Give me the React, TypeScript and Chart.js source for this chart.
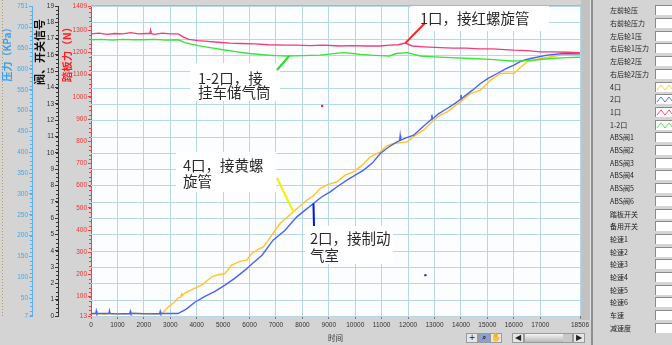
import React, { useEffect, useRef } from "react";
import { Chart, registerables } from "chart.js";

Chart.register(...registerables);

// ---------- tick labels ----------
const timeTicks = [0, 1000, 2000, 3000, 4000, 5000, 6000, 7000, 8000, 9000, 10000, 11000, 12000, 13000, 14000, 15000, 16000, 17000, 18506];
const pressureTicks = [7, 50, 100, 150, 200, 250, 300, 350, 400, 450, 500, 550, 600, 650, 700, 751];
const signalTicks = [0, 1, 2, 3, 4, 5, 6, 7, 8, 9, 10, 11, 12, 13, 14, 15, 16, 17, 18, 19];
const pedalTicks = [13, 100, 200, 300, 400, 500, 600, 700, 800, 900, 1000, 1100, 1200, 1300, 1409];

// ---------- series (time, kPa) ----------
const port1Time = [0, 300, 600, 900, 1200, 1500, 1800, 2100, 2230, 2250, 2270, 2400, 2700, 3000, 3300, 3480, 3700, 4050, 4400, 4800, 5260, 5700, 6200, 6700, 7350, 7800, 8300, 8800, 9430, 9900, 10400, 10950, 11300, 11630, 11895, 12160, 12600, 13220, 13700, 14200, 14700, 15200, 15500, 16000, 16500, 17010, 17500, 18000, 18506];
const port1Kpa = [684, 686, 683, 685, 684, 687, 684, 685, 685, 692, 685, 683, 686, 684, 684, 677, 671, 668, 666, 664, 662, 661, 660, 658, 657, 657, 656, 657, 655, 656, 655, 655, 657, 658, 662, 655, 653, 651, 650, 650, 648, 648, 647, 645, 644, 641, 641, 640, 639];

const port12Time = [0, 400, 800, 1200, 1600, 2000, 2400, 2800, 3300, 3560, 4050, 4500, 5000, 5525, 6000, 6500, 7000, 7420, 8000, 8670, 9100, 9545, 9900, 10190, 10600, 10950, 11300, 11550, 11970, 12460, 13000, 13600, 14360, 15120, 15500, 15880, 16450, 16900, 17390, 18000, 18506];
const port12Kpa = [670, 671, 669, 671, 670, 670, 671, 669, 670, 663, 656, 651, 646, 641, 637, 634, 632, 631, 632, 633, 636, 639, 637, 635, 633, 632, 631, 637, 639, 631, 629, 627, 625, 623, 621, 619, 620, 622, 625, 627, 628];

const port4Time = [0, 250, 500, 750, 1000, 1300, 1600, 1900, 2200, 2450, 2685, 2912, 3174, 3288, 3400, 3428, 3460, 3553, 3933, 4236, 4566, 4805, 5070, 5324, 5639, 5893, 6083, 6322, 6523, 6841, 7156, 7422, 7660, 7914, 8168, 8407, 8673, 8976, 9306, 9621, 9935, 10265, 10569, 10948, 11175, 11452, 11960, 12275, 12590, 12970, 13223, 13477, 13981, 14361, 14740, 15119, 15498, 15726, 16003, 16257, 16511, 17015, 17773, 18506];
const port4Kpa = [12, 13, 11, 13, 12, 12, 14, 12, 13, 12, 12, 28, 41, 50, 52, 60, 56, 62, 74, 83, 101, 106, 109, 129, 138, 141, 157, 167, 173, 201, 229, 244, 257, 271, 285, 295, 313, 323, 329, 345, 353, 369, 389, 401, 415, 421, 425, 441, 453, 477, 489, 497, 521, 541, 549, 573, 589, 590, 589, 604, 617, 625, 633, 633];

const port2Time = [0, 180, 200, 220, 500, 680, 700, 720, 1000, 1470, 1490, 1510, 1800, 2200, 2600, 2620, 2640, 2900, 3288, 3590, 3932, 4312, 4692, 5070, 5449, 5829, 6132, 6473, 6890, 7345, 7789, 8104, 8419, 8711, 9052, 9355, 9685, 10000, 10315, 10645, 10948, 11252, 11581, 11680, 11700, 11720, 11896, 12211, 12541, 12844, 12880, 12900, 12920, 13147, 13477, 13792, 13980, 14000, 14020, 14107, 14437, 14740, 15043, 15373, 15688, 16003, 16295, 16636, 17269, 17899, 18506];
const port2Kpa = [13, 13, 19, 13, 13, 13, 19, 13, 12, 13, 18, 13, 13, 12, 13, 18, 13, 13, 13, 23, 40, 54, 66, 81, 98, 117, 134, 153, 189, 213, 245, 261, 277, 292, 305, 319, 333, 345, 357, 374, 397, 412, 425, 428, 440, 429, 434, 441, 460, 477, 479, 490, 480, 492, 505, 518, 527, 538, 528, 533, 549, 565, 578, 589, 600, 609, 619, 625, 633, 637, 636];

const strayRedTime = [8749];
const strayRedKpa = [511];
const strayBlueTime = [12655];
const strayBlueKpa = [105];

const legendNames = ["左前轮压", "右前轮压力", "左后轮1压", "右后轮1压力", "左后轮2压", "右后轮2压力", "4口", "2口", "1口", "1-2口", "ABS阀1", "ABS阀2", "ABS阀3", "ABS阀4", "ABS阀5", "ABS阀6", "踏板开关", "备用开关", "轮速1", "轮速2", "轮速3", "轮速4", "轮速5", "轮速6", "车速", "减速度"];

const RED = "#f23c78";
const GREEN = "#3ae43a";
const YELLOW = "#ffc426";
const BLUE = "#4a62f0";
const GRID = "#b8d6e9";
const legendColors: Record<string, string> = { "4口": YELLOW, "2口": BLUE, "1口": RED, "1-2口": GREEN };

const notes = [
  { lines: ["1口，接红螺旋管"], t: 11895, v: 662, end: [425, 23], box: [411, 6, 138, 25], tx: 420, ty: [18], color: "#ff2020" },
  { lines: ["1-2口，接", "挂车储气筒"], t: 7500, v: 631, end: [277, 70], box: [190, 63, 90, 38], tx: 198, ty: [78, 92.5], color: "#22dd22" },
  { lines: ["4口，接黄螺", "旋管"], t: 7660, v: 257, end: [277, 178], box: [176, 152, 100, 40], tx: 183, ty: [165, 181.7], color: "#f2f000" },
  { lines: ["2口，接制动", "气室"], t: 8419, v: 277, end: [314, 226], box: [305, 226, 88, 38], tx: 310, ty: [238, 255], color: "#0010ee" },
];

const pts = (t: number[], v: number[]) => t.map((x, i) => ({ x, y: v[i] }));
const TICK_FONT = { family: "Liberation Sans", size: 6.5 };

export default function App() {
  const ref = useRef<HTMLCanvasElement>(null);
  useEffect(() => {
    document.body.style.margin = "0";
    const frame = {
      id: "frame",
      beforeDraw(c: any) {
        const { ctx, chartArea: a } = c;
        ctx.save();
        ctx.fillStyle = "#fbfdfe";
        ctx.fillRect(a.left, a.top, a.right - a.left, a.bottom - a.top);
        ctx.fillStyle = "#c2c2c2";
        ctx.fillRect(a.right + 1, 0, 9, a.bottom + 4);
        ctx.fillStyle = "#e4e4e4";
        ctx.fillRect(a.right + 10, 0, 1, a.bottom + 4);
        ctx.strokeStyle = "#b4b4b4";
        ctx.lineWidth = 1;
        ctx.beginPath();
        ctx.moveTo(a.left, a.top - 0.5);
        ctx.lineTo(a.right + 1, a.top - 0.5);
        ctx.stroke();
        ctx.strokeStyle = "#b89a58";
        ctx.setLineDash([1, 2]);
        ctx.beginPath();
        ctx.moveTo(2.5, 0);
        ctx.lineTo(2.5, a.bottom + 1);
        ctx.stroke();
        ctx.restore();
      },
      beforeDatasetsDraw(c: any) {
        const { ctx, chartArea: a } = c;
        const s = c.scales.yS;
        ctx.save();
        ctx.setLineDash([]);
        ctx.strokeStyle = GRID;
        ctx.lineWidth = 1;
        ctx.beginPath();
        for (const v of signalTicks) {
          const y = Math.round(s.getPixelForValue(v)) + 0.5;
          ctx.moveTo(a.left, y);
          ctx.lineTo(a.right, y);
        }
        ctx.stroke();
        ctx.restore();
      },
      afterDraw(c: any) {
        const { ctx } = c;
        const minor = (id: string, step: number, color: string, len: number) => {
          const s = c.scales[id];
          ctx.save();
          ctx.strokeStyle = color;
          ctx.lineWidth = 1;
          ctx.beginPath();
          for (let v = Math.ceil(s.min / step) * step; v <= s.max; v += step) {
            const y = Math.round(s.getPixelForValue(v)) + 0.5;
            ctx.moveTo(s.right - len, y);
            ctx.lineTo(s.right, y);
          }
          ctx.stroke();
          ctx.restore();
        };
        minor("yP", 10, "#5ab0ee", 2);
        minor("yS", 0.25, "#333", 2);
        minor("yF", 20, "#ee4444", 2);
        const title = (id: string, text: string, dx: number, color: string, size: number) => {
          const s = c.scales[id];
          ctx.save();
          ctx.translate(s.left + dx, 52);
          ctx.rotate(-Math.PI / 2);
          ctx.font = `bold ${size}px "Noto Sans CJK SC"`;
          ctx.fillStyle = color;
          ctx.textAlign = "center";
          ctx.textBaseline = "middle";
          ctx.fillText(text, 0, 0);
          ctx.restore();
        };
        title("yP", "压力（KPa）", 7, "#3aa0e8", 10);
        title("yS", "阀、开关信号", 8, "#111", 11);
        title("yF", "踏板力（N）", 9.5, "#ff2020", 10.5);
      },
      afterDatasetsDraw(c: any) {
        const { ctx } = c;
        const sx = c.scales.x, sy = c.scales.yP;
        for (const n of notes) {
          ctx.save();
          ctx.fillStyle = "#ffffff";
          ctx.fillRect(n.box[0], n.box[1], n.box[2], n.box[3]);
          ctx.strokeStyle = n.color;
          ctx.lineWidth = 2;
          ctx.beginPath();
          ctx.moveTo(sx.getPixelForValue(n.t), sy.getPixelForValue(n.v));
          ctx.lineTo(n.end[0], n.end[1]);
          ctx.stroke();
          ctx.font = '14.5px "Noto Sans CJK SC"';
          ctx.fillStyle = "#2a2a2a";
          ctx.textBaseline = "middle";
          n.lines.forEach((l, i) => ctx.fillText(l, n.tx, n.ty[i]));
          ctx.restore();
        }
      },
    };
    const lineDs = (label: string, t: number[], v: number[], color: string) => ({
      label, data: pts(t, v), borderColor: color, backgroundColor: color,
      borderWidth: 1.4, pointRadius: 0, tension: 0, yAxisID: "yP",
    });
    const dotDs = (label: string, t: number[], v: number[], color: string) => ({
      label, data: pts(t, v), borderColor: color, backgroundColor: color,
      showLine: false, pointRadius: 1.2, borderWidth: 0, yAxisID: "yP",
    });
    const chart = new Chart(ref.current!, {
      type: "line",
      data: {
        datasets: [
          lineDs("1口", port1Time, port1Kpa, RED),
          lineDs("1-2口", port12Time, port12Kpa, GREEN),
          lineDs("2口", port2Time, port2Kpa, BLUE),
          lineDs("4口", port4Time, port4Kpa, YELLOW),
          dotDs("red", strayRedTime, strayRedKpa, "#e02040"),
          dotDs("blue", strayBlueTime, strayBlueKpa, "#2030e0"),
        ] as any,
      },
      options: {
        animation: false,
        responsive: false,
        maintainAspectRatio: false,
        layout: { padding: { top: 6, right: 92, bottom: 0, left: 0 } },
        plugins: { legend: { display: false }, tooltip: { enabled: false } },
        scales: {
          x: {
            type: "linear", min: 0, max: 18506,
            afterBuildTicks: (s: any) => { s.ticks = timeTicks.map((value) => ({ value })); },
            afterFit: (s: any) => { s.height = 29; },
            ticks: { font: TICK_FONT, color: "#333", maxRotation: 0, autoSkip: false, padding: 2, callback: (v: any) => String(v) },
            grid: { color: GRID, tickColor: "#777", tickLength: 3 },
            border: { display: false },
            title: { display: true, text: "时间", font: { family: "Noto Sans CJK SC", size: 7.5 }, color: "#333", padding: { top: 1, bottom: 2 } },
          },
          yP: {
            type: "linear", position: "left", weight: 3, min: 7, max: 751,
            afterBuildTicks: (s: any) => { s.ticks = pressureTicks.map((value) => ({ value })); },
            afterFit: (s: any) => { s.width = 32; },
            ticks: { font: TICK_FONT, color: "#48a8e8", autoSkip: false, padding: 1, callback: (v: any) => String(v) },
            grid: { drawOnChartArea: false, color: "#5ab0ee", tickLength: 3 },
            border: { color: "#5ab0ee", dash: [1, 2] },
          },
          yS: {
            type: "linear", position: "left", weight: 2, min: 0, max: 19,
            afterBuildTicks: (s: any) => { s.ticks = signalTicks.map((value) => ({ value })); },
            afterFit: (s: any) => { s.width = 26; },
            ticks: { font: TICK_FONT, color: "#333", autoSkip: false, padding: 1, callback: (v: any) => String(v) },
            grid: { drawOnChartArea: false, color: "#333", tickLength: 3 },
            border: { color: "#333", dash: [1, 1] },
          },
          yF: {
            type: "linear", position: "left", weight: 1, min: 13, max: 1409,
            afterBuildTicks: (s: any) => { s.ticks = pedalTicks.map((value) => ({ value })); },
            afterFit: (s: any) => { s.width = 33; },
            ticks: { font: TICK_FONT, color: "#ee3333", autoSkip: false, padding: 1, callback: (v: any) => String(v) },
            grid: { drawOnChartArea: false, color: "#ee4444", tickLength: 3 },
            border: { color: "#ee4444" },
          },
        },
      } as any,
      plugins: [frame],
    });
    return () => chart.destroy();
  }, []);

  const btn: React.CSSProperties = { position: "absolute", top: 333, height: 10, background: "#e6e6e6", border: "1px solid #9a9a9a", boxSizing: "border-box", fontSize: 8, lineHeight: "8px", textAlign: "center", color: "#222", fontFamily: "DejaVu Sans" };

  return (
    <div style={{ position: "fixed", left: 0, top: 0, width: 672, height: 345, background: "#d4d4d4", overflow: "hidden" }}>
      <canvas ref={ref} width={672} height={345} style={{ position: "absolute", left: 0, top: 0, width: 672, height: 345 }} />
      <div style={{ position: "absolute", left: 591, top: 0, width: 2, height: 345, background: "#8e8e8e" }} />
      {legendNames.map((name, i) => {
        const top = 10.3 + i * 12.7;
        const col = legendColors[name];
        return (
          <React.Fragment key={name}>
            <div style={{ position: "absolute", left: 610, top: top - 5, height: 10, lineHeight: "10px", fontSize: 7, fontFamily: '"Noto Sans CJK SC"', color: "#222", whiteSpace: "nowrap" }}>{name}</div>
            <div style={{ position: "absolute", left: 655, top: top - 5, width: 22, height: 10, background: "#fff", borderTop: "1px solid #8a8a8a", borderLeft: "1px solid #8a8a8a", boxSizing: "border-box" }}>
              {col && (
                <svg width={18} height={9} style={{ position: "absolute", left: 0, top: 0 }}>
                  <polyline points="1,7 5,2 9,7 13,2 17,7" fill="none" stroke={col} strokeWidth={0.9} />
                </svg>
              )}
            </div>
          </React.Fragment>
        );
      })}
      <div style={{ ...btn, left: 466, width: 12 }}>+</div>
      <div style={{ ...btn, left: 478, width: 12, background: "#8aa0d0" }}>⌕</div>
      <div style={{ ...btn, left: 490, width: 12 }}>✋</div>
      <div style={{ ...btn, left: 512, width: 12 }}>◀</div>
      <div style={{ position: "absolute", left: 524, top: 333, width: 49, height: 10, background: "#c8c8c8", border: "1px solid #9a9a9a", boxSizing: "border-box" }}>
        <div style={{ position: "absolute", left: 0, top: 0, width: 38, height: 8, background: "linear-gradient(#f4f4f4,#b8b8b8)" }} />
      </div>
      <div style={{ ...btn, left: 573, width: 12 }}>▶</div>
    </div>
  );
}
